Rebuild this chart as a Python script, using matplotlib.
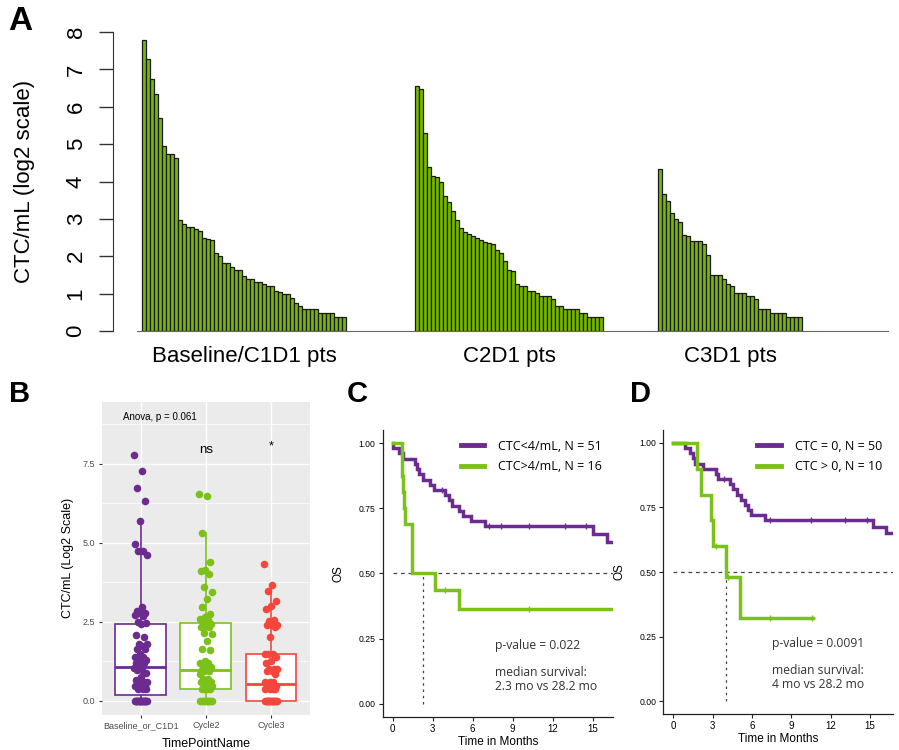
import numpy as np
import matplotlib
matplotlib.use("Agg")
import matplotlib.pyplot as plt
from matplotlib.lines import Line2D

plt.rcParams['font.family'] = ['Liberation Sans', 'DejaVu Sans']

# ---------------- data ----------------
group_labels = ["Baseline/C1D1 pts", "C2D1 pts", "C3D1 pts"]
base_vals = [7.78, 7.29, 6.74, 6.34, 5.69, 4.95, 4.73, 4.73, 4.62, 2.97, 2.85, 2.79, 2.78,
             2.73, 2.67, 2.50, 2.46, 2.44, 2.08, 2.02, 1.81, 1.81, 1.72, 1.63, 1.63, 1.48,
             1.39, 1.39, 1.30, 1.30, 1.25, 1.20, 1.20, 1.07, 1.05, 0.99, 0.99, 0.87, 0.76,
             0.67, 0.58, 0.58, 0.58, 0.58, 0.47, 0.47, 0.47, 0.47, 0.38, 0.38, 0.38]
c2_vals = [6.56, 6.47, 5.31, 4.39, 4.14, 4.11, 4.00, 3.61, 3.46, 3.21, 2.96, 2.75, 2.65,
           2.60, 2.55, 2.48, 2.43, 2.37, 2.35, 2.33, 2.16, 2.10, 1.88, 1.63, 1.60, 1.26,
           1.21, 1.21, 1.08, 1.08, 1.01, 0.93, 0.93, 0.93, 0.85, 0.68, 0.68, 0.59, 0.59,
           0.59, 0.59, 0.47, 0.47, 0.38, 0.38, 0.38, 0.38]
c3_vals = [4.33, 3.67, 3.48, 3.16, 2.99, 2.91, 2.57, 2.54, 2.41, 2.40, 2.40, 2.34, 2.03,
           1.49, 1.49, 1.49, 1.39, 1.27, 1.20, 1.01, 1.01, 1.01, 0.94, 0.94, 0.85, 0.58,
           0.58, 0.58, 0.47, 0.47, 0.47, 0.47, 0.38, 0.38, 0.38, 0.38]
zero_counts = [17, 10, 14]

# Panel B box statistics
box_names = ["Baseline_or_C1D1", "Cycle2", "Cycle3"]
box_q1 = [0.19, 0.37, 0.0]
box_med = [1.08, 0.96, 0.54]
box_q3 = [2.44, 2.46, 1.49]
box_lo = [0.0, 0.0, 0.0]
box_hi = [5.65, 5.30, 3.67]

# Panel C KM curves
c_lo_t = [0, 0.05, 0.5, 0.75, 1.7, 1.85, 2.0, 2.3, 2.8, 3.1, 3.95, 4.2, 4.45, 4.95, 5.25, 5.85, 6.95, 15.05, 16.05, 16.7]
c_lo_s = [1.0, 0.98, 0.96, 0.94, 0.92, 0.90, 0.88, 0.86, 0.84, 0.82, 0.80, 0.78, 0.76, 0.74, 0.72, 0.70, 0.68, 0.65, 0.62, 0.62]
c_lo_cens = [3.7, 7.25, 8.1, 10.25, 12.9, 14.5]
c_hi_t = [0, 0.68, 0.72, 0.8, 0.85, 0.95, 1.45, 3.15, 5.0, 16.7]
c_hi_s = [1.0, 0.9375, 0.875, 0.8125, 0.75, 0.6875, 0.50, 0.4375, 0.365, 0.365]
c_hi_cens = [3.9, 10.25]
c_median = 2.3

# Panel D KM curves
d_lo_t = [0, 0.9, 1.25, 1.55, 1.7, 2.25, 3.3, 3.4, 4.3, 4.6, 4.85, 5.2, 5.45, 5.7, 5.9, 7.0, 15.25, 16.25, 16.9]
d_lo_s = [1.0, 0.98, 0.96, 0.94, 0.92, 0.90, 0.88, 0.86, 0.84, 0.82, 0.80, 0.78, 0.76, 0.74, 0.72, 0.70, 0.675, 0.65, 0.65]
d_lo_cens = [3.9, 7.4, 10.5, 13.1, 14.8]
d_hi_t = [0, 1.85, 2.1, 2.85, 3.05, 4.05, 5.1, 10.65]
d_hi_s = [1.0, 0.9, 0.8, 0.7, 0.6, 0.48, 0.32, 0.32]
d_hi_cens = [3.3, 4.2, 7.4, 10.6]
d_median = 4.05

PURPLE = "#6B2B8F"
GREEN = "#7CC11A"
RED = "#F6453D"
BAR_GREEN = "#77B800"

fig = plt.figure(figsize=(8.99, 7.5), dpi=100)
W, H = 899.0, 750.0

def px_axes(left, top, right, bottom):
    return fig.add_axes([left / W, 1 - bottom / H, (right - left) / W, (bottom - top) / H])

# ---------------- Panel A ----------------
axA = px_axes(113, 32, 888, 331)
lead, gap1, gap2 = 7.25, 17.25, 13.75
groups = [base_vals, c2_vals, c3_vals]
starts = [lead, lead + len(base_vals) + gap1, lead + len(base_vals) + gap1 + len(c2_vals) + gap2]
centers = []
for st, vals in zip(starts, groups):
    x = st + np.arange(len(vals)) + 0.5
    axA.bar(x, vals, width=1.0, color=BAR_GREEN, edgecolor="#1a1a1a", linewidth=0.9)
    centers.append(st + len(vals) / 2)
axA.set_xlim(0, 193.75)
axA.set_ylim(0, 8)
for s in ["top", "right"]:
    axA.spines[s].set_visible(False)
axA.spines["left"].set_bounds(0, 8)
axA.spines["left"].set_color("#333333")
axA.spines["bottom"].set_bounds(6.0, 193.75)
axA.spines["bottom"].set_color("#666666")
axA.set_yticks(range(0, 9))
axA.tick_params(axis="y", length=10, width=1, color="#333333", labelsize=16, pad=9)
for lab in axA.get_yticklabels():
    lab.set_rotation(90)
    lab.set_va("center")
axA.set_xticks(centers)
axA.set_xticklabels(group_labels, fontsize=16)
axA.tick_params(axis="x", length=0, pad=11)
axA.set_ylabel("CTC/mL (log2 scale)", fontsize=16)
axA.yaxis.set_label_coords(-0.101, 0.5)

# ---------------- Panel B ----------------
axB = px_axes(101.7, 401.7, 310, 715)
axB.set_facecolor("#EBEBEB")
axB.set_xlim(0.4, 3.6)
axB.set_ylim(-0.45, 9.47)
for s in axB.spines.values():
    s.set_visible(False)
for yv in [1.25, 3.75, 6.25, 8.75]:
    axB.axhline(yv, color="white", lw=0.5, zorder=0)
for yv in [0, 2.5, 5, 7.5]:
    axB.axhline(yv, color="white", lw=1.0, zorder=0)
for xv in [1, 2, 3]:
    axB.axvline(xv, color="white", lw=1.0, zorder=0)
stats = []
for i in range(3):
    stats.append(dict(med=box_med[i], q1=box_q1[i], q3=box_q3[i], whislo=box_lo[i],
                      whishi=box_hi[i], fliers=[], label=box_names[i]))
cols = [PURPLE, GREEN, RED]
bp = axB.bxp(stats, positions=[1, 2, 3], widths=0.78, showcaps=False, showfliers=False,
             patch_artist=True, manage_ticks=False)
for i, box in enumerate(bp["boxes"]):
    box.set_facecolor("white")
    box.set_edgecolor(cols[i])
    box.set_linewidth(1.2)
    box.set_zorder(2)
for i, med in enumerate(bp["medians"]):
    med.set_color(cols[i])
    med.set_linewidth(2.0)
    med.set_zorder(3)
for i, w in enumerate(bp["whiskers"]):
    w.set_color(cols[i // 2])
    w.set_linewidth(1.2)
    w.set_zorder(2)
for i, vals in enumerate(groups):
    allv = np.array(list(vals) + [0.0] * zero_counts[i])
    n = len(allv)
    jit = ((np.arange(n) * 0.61803) % 1 - 0.5) * 0.2
    axB.scatter(i + 1 + jit, allv, s=30, color=cols[i], zorder=4, linewidths=0)
axB.set_xticks([1, 2, 3])
axB.set_xticklabels(box_names, fontsize=6.5, color="#4D4D4D")
axB.set_yticks([0, 2.5, 5, 7.5])
axB.set_yticklabels(["0.0", "2.5", "5.0", "7.5"], fontsize=6.5, color="#4D4D4D")
axB.tick_params(length=2.5, color="#333333", pad=2)
axB.set_ylabel("CTC/mL (Log2 Scale)", fontsize=9)
axB.yaxis.set_label_coords(-0.133, 0.5)
axB.set_xlabel("TimePointName", fontsize=9)
axB.xaxis.set_label_coords(0.5, -0.073)
axB.text(0.73, 9.0, "Anova, p = 0.061", fontsize=7, ha="left", va="center")
axB.text(2, 7.95, "ns", fontsize=9.5, ha="center", va="center")
axB.text(3, 8.05, "*", fontsize=9, ha="center", va="center")

# ---------------- Panels C & D ----------------
SEG = ["Open Sans", "DejaVu Sans"]

def km_panel(ax, xmax, lo_t, lo_s, lo_c, hi_t, hi_s, hi_c, median, labels, ptxt, mtxt, tx):
    ax.set_xlim(-0.75, xmax)
    ax.set_ylim(-0.05, 1.05)
    for s in ["top", "right"]:
        ax.spines[s].set_visible(False)
    for s in ["left", "bottom"]:
        ax.spines[s].set_color("#222222")
        ax.spines[s].set_linewidth(0.9)
    ax.axhline(0.5, xmin=0.75 / (xmax + 0.75), color="#444444", lw=0.9, ls=(0, (3, 3)))
    ax.plot([median, median], [0, 0.5], color="#444444", lw=0.9, ls=(0, (2, 3)))
    handles = []
    for t, s, c, col in [(lo_t, lo_s, lo_c, PURPLE), (hi_t, hi_s, hi_c, GREEN)]:
        ax.step(t, s, where="post", color=col, lw=2.5, solid_joinstyle="miter")
        idx = np.searchsorted(np.array(t), np.array(c), side="right") - 1
        ax.plot(c, np.array(s)[idx], ls="none", marker="+", ms=4.5, mew=1.0, color=col)
        handles.append(Line2D([0], [0], color=col, lw=3.5))
    ax.legend(handles, labels, loc="upper right", bbox_to_anchor=(1.0, 1.005), frameon=False,
              handlelength=1.9, handletextpad=1.1, labelspacing=0.6,
              prop={"family": SEG, "size": 9})
    ax.set_yticks([0, 0.25, 0.5, 0.75, 1.0])
    ax.set_yticklabels(["0.00", "0.25", "0.50", "0.75", "1.00"], fontsize=6.2)
    ax.set_xticks([0, 3, 6, 9, 12, 15])
    ax.tick_params(axis="x", labelsize=7)
    ax.tick_params(length=3, color="#222222", pad=2)
    ax.set_ylabel("OS", fontsize=8.5)
    ax.yaxis.set_label_coords(-0.165, 0.5)
    ax.set_xlabel("Time in Months", fontsize=8.5)
    ax.xaxis.set_label_coords(0.5, -0.068)
    ax.text(tx, 0.222, ptxt, fontsize=8.7, ha="left", va="center", color="#333333", family=SEG)
    ax.text(tx, 0.092, mtxt, fontsize=8.7, ha="left", va="center", color="#333333",
            family=SEG, linespacing=1.05)

axC = px_axes(382.7, 430, 613.3, 716.7)
km_panel(axC, 16.55, c_lo_t, c_lo_s, c_lo_cens, c_hi_t, c_hi_s, c_hi_cens, c_median,
         ["CTC<4/mL, N = 51", "CTC>4/mL, N = 16"], "p-value = 0.022",
         "median survival:\n2.3 mo vs 28.2 mo", 7.67)
axD = px_axes(663.3, 430, 893.3, 714)
km_panel(axD, 16.78, d_lo_t, d_lo_s, d_lo_cens, d_hi_t, d_hi_s, d_hi_cens, d_median,
         ["CTC = 0, N = 50", "CTC > 0, N = 10"], "p-value = 0.0091",
         "median survival:\n4 mo vs 28.2 mo", 7.5)

# panel letters
for txt, x, y, sz in [("A", 20, 22, 24), ("B", 20, 394, 21), ("C", 357, 394, 21), ("D", 641, 394, 21)]:
    fig.text(x / W, 1 - y / H, txt, fontsize=sz, fontweight="bold", ha="center", va="center",
             family=["Liberation Sans", "DejaVu Sans"])

fig.savefig("out.png", dpi=100)
